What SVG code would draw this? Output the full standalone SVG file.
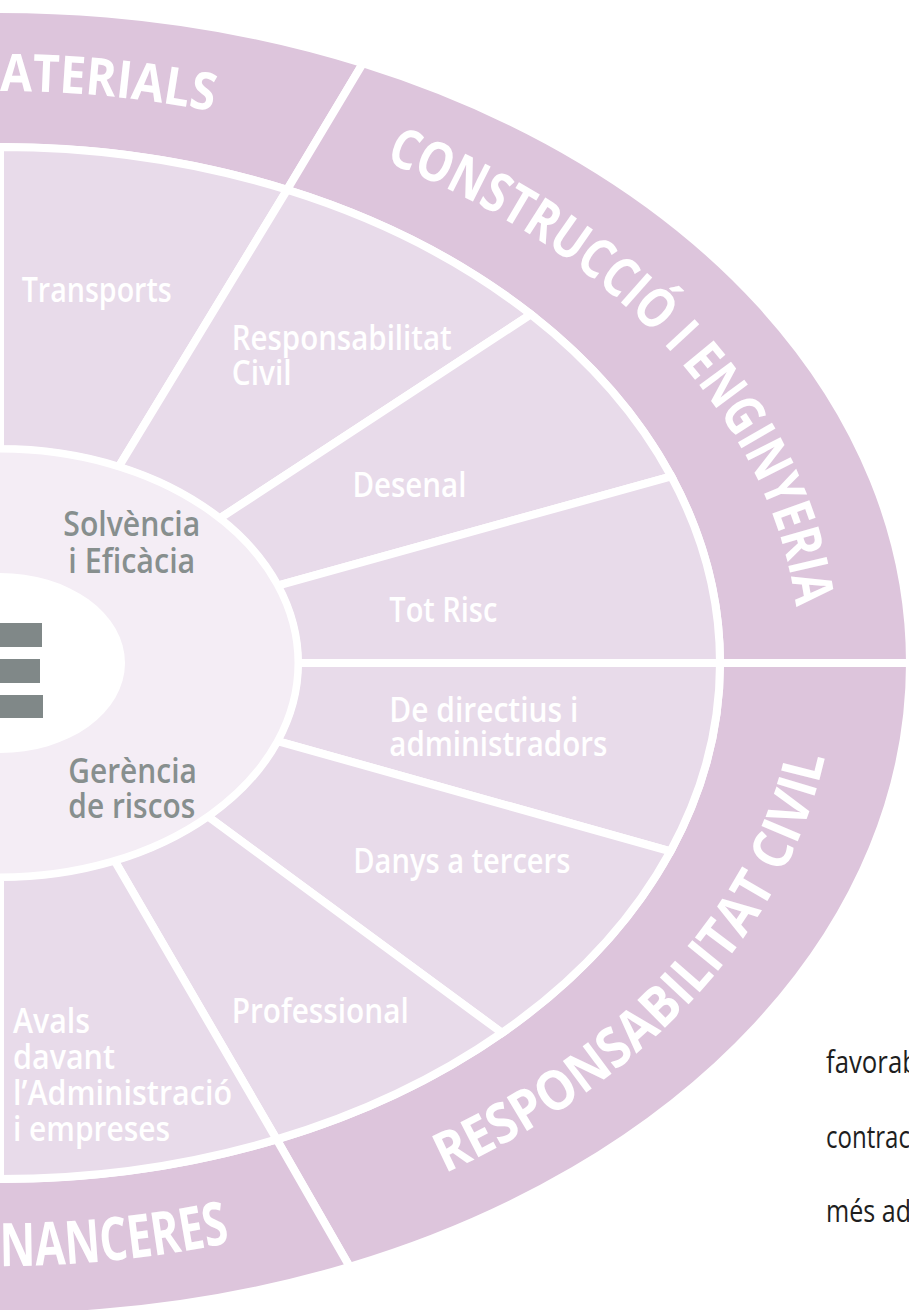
<svg xmlns="http://www.w3.org/2000/svg" width="909" height="1310" viewBox="0 0 909 1310">
  <style>
    .outer { fill: #ddc5dc; stroke: #ffffff; stroke-width: 8; }
    .inner { fill: #e8dbea; stroke: #ffffff; stroke-width: 8; }
    .lbl { font-family: "Open Sans", "Liberation Sans", sans-serif; font-weight: 600; font-size: 34px; fill: #ffffff; }
    .core { font-family: "Open Sans", "Liberation Sans", sans-serif; font-weight: 600; font-size: 34px; fill: #878f8e; }
    .arc { font-family: "Open Sans", "Liberation Sans", sans-serif; font-weight: 700; fill: #ffffff; }
    .body { font-family: "Open Sans", "Liberation Sans", sans-serif; font-weight: 400; font-size: 31px; fill: #1e1e1e; }
    .bar { fill: #808888; }
  </style>
  <defs>
    <path id="pMat" d="M 0 91 A 800 572 0 0 1 385 161.6"/>
    <path id="pCon" d="M 385 161.6 A 800 572 0 0 1 800 663"/>
    <path id="pRes" d="M 445 1173.3 A 835 603 0 0 0 835 663"/>
    <path id="pFin" d="M 0 1266 A 835 603 0 0 0 445 1173.3"/>
  </defs>

  <rect x="0" y="0" width="909" height="1310" fill="#ffffff"/>

  <!-- outer ring -->
  <g id="materials">
    <path class="outer" d="M -158 18.9 A 910 654 0 0 1 362.9 63.2 L 287.1 189.8 A 720 516 0 0 0 -125 154.8 Z"/>
    <text class="arc" font-size="52"><textPath href="#pMat" textLength="214" lengthAdjust="spacingAndGlyphs">ATERIALS</textPath></text>
  </g>
  <g id="construccio">
    <path class="outer" d="M 362.9 63.2 A 910 654 0 0 1 910 663 L 720 663 A 720 516 0 0 0 287.1 189.8 Z"/>
    <text class="arc" font-size="55"><textPath href="#pCon" textLength="635" lengthAdjust="spacingAndGlyphs">CONSTRUCCIÓ I ENGINYERIA</textPath></text>
  </g>
  <g id="responsabilitat">
    <path class="outer" d="M 910 663 A 910 654 0 0 1 349.7 1266.8 L 276.7 1139.4 A 720 516 0 0 0 720 663 Z"/>
    <text class="arc" font-size="55"><textPath href="#pRes" textLength="584" lengthAdjust="spacingAndGlyphs">RESPONSABILITAT CIVIL</textPath></text>
  </g>
  <g id="financeres">
    <path class="outer" d="M 349.7 1266.8 A 910 654 0 0 1 -158 1307.1 L -125 1171.2 A 720 516 0 0 0 276.7 1139.4 Z"/>
    <text class="arc" font-size="60"><textPath href="#pFin" textLength="232" lengthAdjust="spacingAndGlyphs">NANCERES</textPath></text>
  </g>

  <!-- inner ring -->
  <g id="transports">
    <path class="inner" d="M 0 147 A 720 516 0 0 1 287.1 189.8 L 118.8 466.7 A 298 214 0 0 0 0 449 Z"/>
    <text class="lbl" x="21.7" y="301.7" textLength="150" lengthAdjust="spacingAndGlyphs">Transports</text>
  </g>
  <g id="resp-civil">
    <path class="inner" d="M 287.1 189.8 A 720 516 0 0 1 530.8 314.4 L 219.7 518.4 A 298 214 0 0 0 118.8 466.7 Z"/>
    <text class="lbl" x="231.7" y="350" textLength="220" lengthAdjust="spacingAndGlyphs">Responsabilitat</text>
    <text class="lbl" x="231.7" y="385" textLength="60" lengthAdjust="spacingAndGlyphs">Civil</text>
  </g>
  <g id="desenal">
    <path class="inner" d="M 530.8 314.4 A 720 516 0 0 1 671.3 476.4 L 277.8 585.6 A 298 214 0 0 0 219.7 518.4 Z"/>
    <text class="lbl" x="352.4" y="496.7" textLength="114" lengthAdjust="spacingAndGlyphs">Desenal</text>
  </g>
  <g id="tot-risc">
    <path class="inner" d="M 671.3 476.4 A 720 516 0 0 1 720 663 L 298 663 A 298 214 0 0 0 277.8 585.6 Z"/>
    <text class="lbl" x="389.3" y="621.7" textLength="108" lengthAdjust="spacingAndGlyphs">Tot Risc</text>
  </g>
  <g id="directius">
    <path class="inner" d="M 720 663 A 720 516 0 0 1 670.4 851.3 L 277.5 741.1 A 298 214 0 0 0 298 663 Z"/>
    <text class="lbl" x="389.3" y="721.7" textLength="189" lengthAdjust="spacingAndGlyphs">De directius i</text>
    <text class="lbl" x="389.3" y="756" textLength="218" lengthAdjust="spacingAndGlyphs">administradors</text>
  </g>
  <g id="danys">
    <path class="inner" d="M 670.4 851.3 A 720 516 0 0 1 502 1032.9 L 207.8 816.4 A 298 214 0 0 0 277.5 741.1 Z"/>
    <text class="lbl" x="353.3" y="873.3" textLength="217" lengthAdjust="spacingAndGlyphs">Danys a tercers</text>
  </g>
  <g id="professional">
    <path class="inner" d="M 502 1032.9 A 720 516 0 0 1 276.7 1139.4 L 114.5 860.6 A 298 214 0 0 0 207.8 816.4 Z"/>
    <text class="lbl" x="231.7" y="1023.3" textLength="177" lengthAdjust="spacingAndGlyphs">Professional</text>
  </g>
  <g id="avals">
    <path class="inner" d="M 276.7 1139.4 A 720 516 0 0 1 0 1179 L 0 877 A 298 214 0 0 0 114.5 860.6 Z"/>
    <text class="lbl" x="13" y="1032.7" textLength="77" lengthAdjust="spacingAndGlyphs">Avals</text>
    <text class="lbl" x="13" y="1068.5" textLength="102" lengthAdjust="spacingAndGlyphs">davant</text>
    <text class="lbl" x="13" y="1105" textLength="219" lengthAdjust="spacingAndGlyphs">l’Administració</text>
    <text class="lbl" x="13" y="1141" textLength="157" lengthAdjust="spacingAndGlyphs">i empreses</text>
  </g>

  <!-- core -->
  <g id="core">
    <ellipse cx="0" cy="663" rx="298" ry="214" fill="#f4edf5" stroke="#ffffff" stroke-width="7"/>
    <text class="core" x="63.3" y="536" textLength="137" lengthAdjust="spacingAndGlyphs">Solvència</text>
    <text class="core" x="68.3" y="572.7" textLength="127" lengthAdjust="spacingAndGlyphs">i Eficàcia</text>
    <text class="core" x="68.3" y="783.3" textLength="128.5" lengthAdjust="spacingAndGlyphs">Gerència</text>
    <text class="core" x="68.3" y="817.7" textLength="127" lengthAdjust="spacingAndGlyphs">de riscos</text>
  </g>
  <g id="centre">
    <ellipse cx="0" cy="663" rx="125" ry="90" fill="#ffffff"/>
    <rect class="bar" x="0" y="623" width="42" height="24"/>
    <rect class="bar" x="0" y="659" width="40" height="24"/>
    <rect class="bar" x="0" y="695" width="43" height="23"/>
  </g>

  <!-- body text fragments -->
  <g id="body-text">
    <text class="body" x="826" y="1073" textLength="92" lengthAdjust="spacingAndGlyphs">favorab</text>
    <text class="body" x="826" y="1148" textLength="84" lengthAdjust="spacingAndGlyphs">contrac</text>
    <text class="body" x="826" y="1222" textLength="85" lengthAdjust="spacingAndGlyphs">més ad</text>
  </g>
</svg>
